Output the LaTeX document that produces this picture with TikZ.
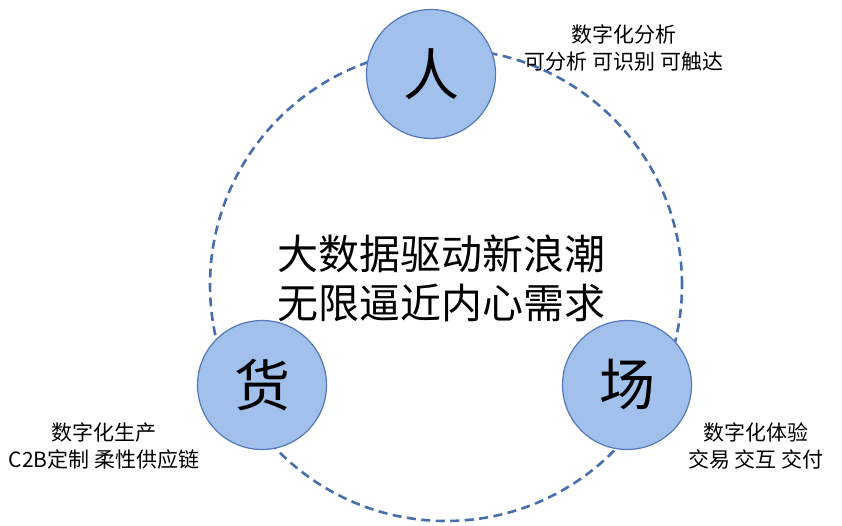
\documentclass[tikz,border=0pt]{standalone}
\usepackage{fontspec}
\setmainfont{Noto Sans CJK SC}
\usepackage{tikz}
\usetikzlibrary{positioning,shapes,backgrounds}
\definecolor{ballFill}{RGB}{162,192,236}
\definecolor{ballDraw}{RGB}{84,120,184}
\definecolor{ringDraw}{RGB}{72,110,174}

\begin{document}
\begin{tikzpicture}[
	x=1pt, y=-1pt,
	ring/.style={circle, draw=ringDraw, line width=2.6pt,
		dash pattern=on 9pt off 5.5pt, minimum size=472pt, inner sep=0pt},
	ball/.style={circle, draw=ballDraw, line width=1.2pt, fill=ballFill,
		minimum size=129pt, inner sep=0pt, font=\fontsize{56}{60}\selectfont},
	note/.style={align=center, inner sep=0pt,
		font=\fontsize{21}{27}\selectfont},
	core/.style={align=center, inner sep=0pt,
		font=\fontsize{41}{49}\selectfont},
	]
	\useasboundingbox (0,0) rectangle (842,525);
	\node [ring] (0) at (446,285) {};
	\node [ball] (1) at (431,74) {人};
	\node [ball] (2) at (262,385) {货};
	\node [ball] (3) at (627,385) {场};
	\node [core] (4) at (441,278) {大数据驱动新浪潮\\无限逼近内心需求};
	\node [note] (5) at (624,48) {数字化分析\\可分析 可识别 可触达};
	\node [note] (6) at (104,446) {数字化生产\\C2B定制 柔性供应链};
	\node [note] (7) at (756,446) {数字化体验\\交易 交互 交付};
	\end{tikzpicture}
\end{document}
